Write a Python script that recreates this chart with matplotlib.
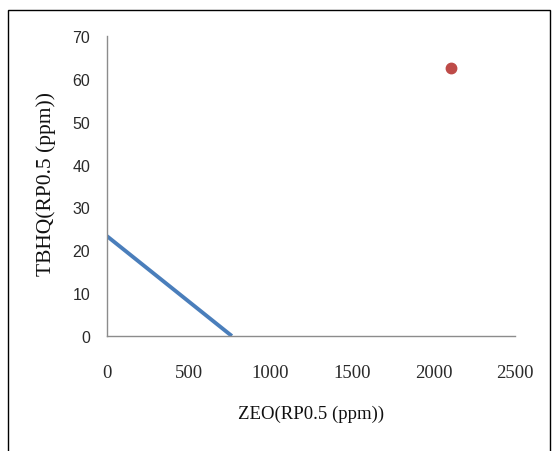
import matplotlib
matplotlib.use("Agg")
import matplotlib.pyplot as plt
from matplotlib.patches import Rectangle
from matplotlib import font_manager

# Data
line_x = [0, 765]
line_y = [23.3, 0]
point_x = [2105]
point_y = [62.5]
xticks = [0, 500, 1000, 1500, 2000, 2500]
yticks = [0, 10, 20, 30, 40, 50, 60, 70]
xlabel = "ZEO(RP0.5 (ppm))"
ylabel = "TBHQ(RP0.5 (ppm))"

names = {f.name for f in font_manager.fontManager.ttflist}
ytick_font = "Liberation Sans Narrow" if "Liberation Sans Narrow" in names else "Liberation Sans"

W, H = 555, 452
fig = plt.figure(figsize=(W / 100, H / 100), dpi=100)
fig.patch.set_facecolor("white")

# outer frame
fig.patches.append(Rectangle((8 / W, -0.05), (550 - 8) / W, 1.05 - 11 / H,
                             transform=fig.transFigure, fill=False,
                             edgecolor="black", linewidth=1.0))

x0, x1, ytop, ybot = 107, 515, 37, 337
ax = fig.add_axes([x0 / W, 1 - ybot / H, (x1 - x0) / W, (ybot - ytop) / H])
ax.plot(line_x, line_y, color="#4A7EBB", linewidth=2.8, solid_capstyle="butt")
ax.plot(point_x, point_y, "o", color="#BE4B48", markersize=7.5)

ax.set_xlim(0, 2500)
ax.set_ylim(0, 70)
ax.set_xticks(xticks)
ax.set_yticks(yticks)
ax.set_xticklabels([str(v) for v in xticks], fontfamily="Liberation Serif",
                   fontsize=13.5, color="#2a2a2a")
ax.set_yticklabels([str(v) for v in yticks], fontfamily=ytick_font,
                   fontsize=11.5, color="#2a2a2a")
ax.tick_params(axis="x", length=0, pad=20)
ax.tick_params(axis="y", length=0, pad=12)
for s in ["top", "right"]:
    ax.spines[s].set_visible(False)
for s in ["left", "bottom"]:
    ax.spines[s].set_color("#8C8C8C")
    ax.spines[s].set_linewidth(1.0)

fig.text(311 / W, 1 - 414 / H, xlabel, ha="center", va="center",
         fontfamily="Liberation Serif", fontsize=13.5, color="#111111")
fig.text(46 / W, 1 - 184 / H, ylabel, ha="center", va="center", rotation=90,
         fontfamily="Liberation Serif", fontsize=15.5, color="#111111")

fig.savefig("out.png", dpi=100)
